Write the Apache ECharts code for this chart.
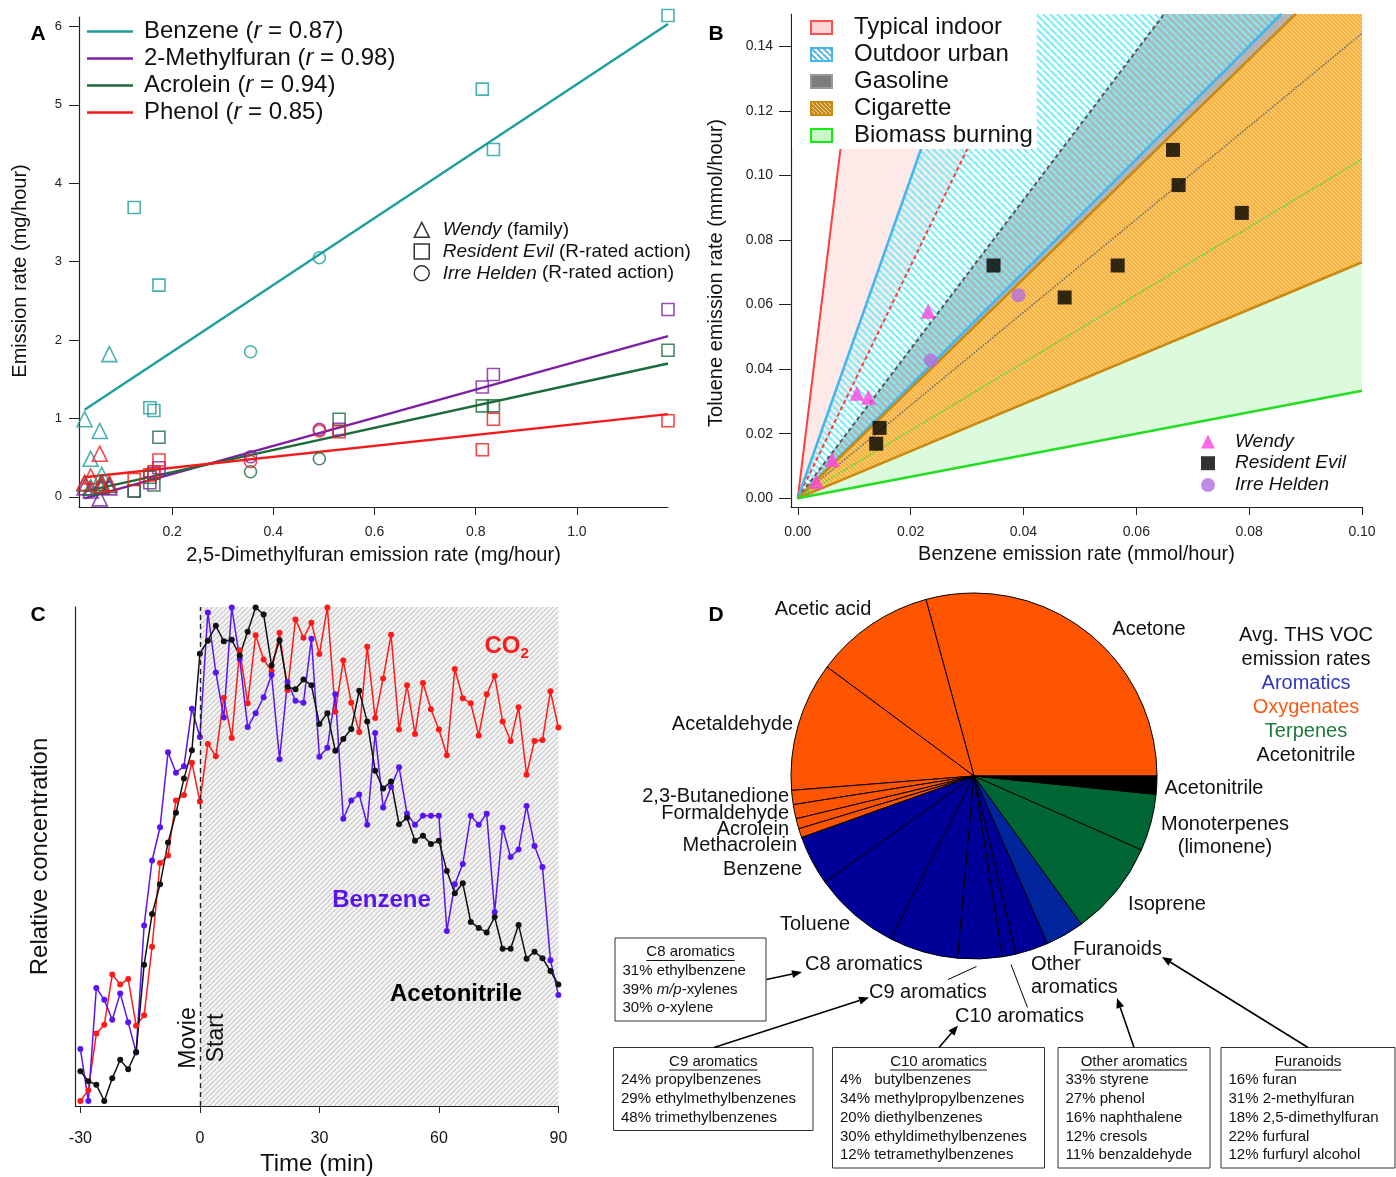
<!DOCTYPE html>
<html>
<head>
<meta charset="utf-8">
<script src="https://cdn.jsdelivr.net/npm/echarts@6/dist/echarts.min.js"></script>
<style>
  html, body { margin: 0; padding: 0; background: #fff; }
  #chart { width: 1396px; height: 1177px; }
</style>
</head>
<body>
<div id="chart"></div>
<script>
const FONT = "'Liberation Sans', Arial, Helvetica, sans-serif";

// ---------- Panel A: emission rates vs 2,5-dimethylfuran ----------
const compoundsA = ['Benzene', '2-Methylfuran', 'Acrolein', 'Phenol'];
const rValuesA = [0.87, 0.98, 0.94, 0.85];
const moviesA = ['Wendy (family)', 'Resident Evil (R-rated action)', 'Irre Helden (R-rated action)'];
// [2,5-dimethylfuran, compound, movie]  movie: 0 Wendy, 1 Resident Evil, 2 Irre Helden
const benzenePtsA = [
  [0.027, 0.99, 0], [0.039, 0.485, 0], [0.057, 0.84, 0], [0.061, 0.28, 0], [0.076, 1.82, 0],
  [0.125, 3.69, 1], [0.156, 1.135, 1], [0.164, 1.10, 1], [0.174, 2.70, 1], [0.813, 5.20, 1], [0.835, 4.43, 1], [1.18, 6.14, 1],
  [0.355, 1.85, 2], [0.491, 3.05, 2]
];
const methylfuranPtsA = [
  [0.027, 0.12, 0], [0.039, 0.08, 0], [0.057, -0.02, 0], [0.061, 0.13, 0], [0.076, 0.12, 0],
  [0.125, 0.075, 1], [0.156, 0.18, 1], [0.164, 0.30, 1], [0.174, 0.37, 1], [0.53, 0.86, 1], [0.813, 1.40, 1], [0.835, 1.56, 1], [1.18, 2.39, 1],
  [0.355, 0.51, 2], [0.491, 0.86, 2]
];
const acroleinPtsA = [
  [0.027, 0.17, 0], [0.039, 0.12, 0], [0.057, 0.14, 0], [0.061, 0.18, 0], [0.076, 0.15, 0],
  [0.125, 0.075, 1], [0.156, 0.25, 1], [0.164, 0.15, 1], [0.174, 0.76, 1], [0.53, 0.99, 1], [0.813, 1.16, 1], [0.835, 1.16, 1], [1.18, 1.87, 1],
  [0.355, 0.32, 2], [0.491, 0.485, 2]
];
const phenolPtsA = [
  [0.027, 0.18, 0], [0.039, 0.26, 0], [0.057, 0.55, 0], [0.061, 0.15, 0], [0.076, 0.17, 0],
  [0.125, 0.22, 1], [0.156, 0.28, 1], [0.164, 0.32, 1], [0.174, 0.47, 1], [0.53, 0.83, 1], [0.813, 0.60, 1], [0.835, 0.99, 1], [1.18, 0.97, 1],
  [0.355, 0.45, 2], [0.491, 0.84, 2]
];
// regression line end points
const benzeneFitA = [[0.027, 1.11], [1.18, 6.03]];
const methylfuranFitA = [[0.027, -0.02], [1.18, 2.05]];
const acroleinFitA = [[0.027, 0.07], [1.18, 1.70]];
const phenolFitA = [[0.027, 0.25], [1.18, 1.055]];
const xTicksA = [0.2, 0.4, 0.6, 0.8, 1.0];
const yTicksA = [0, 1, 2, 3, 4, 5, 6];

// ---------- Panel B: toluene vs benzene ----------
const wendyB = [[0.0033, 0.0052], [0.0061, 0.0120], [0.0105, 0.0325], [0.0125, 0.0313], [0.0231, 0.0579]];
const residentEvilB = [[0.0139, 0.0169], [0.0145, 0.0218], [0.0347, 0.0721], [0.0473, 0.0622], [0.0567, 0.0721],
  [0.0665, 0.1079], [0.0675, 0.0970], [0.0787, 0.0884]];
const irreHeldenB = [[0.0236, 0.0427], [0.0391, 0.0629]];
// toluene/benzene ratio ranges of the sources
const sourcesB = ['Typical indoor', 'Outdoor urban', 'Gasoline', 'Cigarette', 'Biomass burning'];
const ratioHighB = [14.3, 4.95, 2.31, 1.70, 1.05];
const ratioLowB = [3.6, 1.75, 1.44, 0.731, 0.333];
const xTicksB = [0, 0.02, 0.04, 0.06, 0.08, 0.10];
const yTicksB = [0, 0.02, 0.04, 0.06, 0.08, 0.10, 0.12, 0.14];

// ---------- Panel C: relative concentration time series ----------
const timeC = [-30, -28, -26, -24, -22, -20, -18, -16, -14, -12, -10, -8, -6, -4, -2, 0, 2, 4, 6, 8, 10,
  12, 14, 16, 18, 20, 22, 24, 26, 28, 30, 32, 34, 36, 38, 40, 42, 44, 46, 48, 50,
  52, 54, 56, 58, 60, 62, 64, 66, 68, 70, 72, 74, 76, 78, 80, 82, 84, 86, 88, 90];
const co2C = [0.4, 2.6, 14.0, 15.8, 25.9, 23.9, 25.0, 15.6, 17.7, 31.5, 48.4, 49.9, 61.0, 62.1, 68.6, 60.8, 72.4, 69.9, 81.7, 73.6, 91.3,
  80.6, 94.3, 89.4, 87.1, 94.8, 83.2, 97.5, 93.8, 96.8, 90.5, 99.9, 78.9, 89.2, 80.7, 74.8, 92.0, 77.6, 85.6, 94.4, 75.3,
  84.2, 74.4, 84.7, 79.4, 75.3, 70.1, 87.5, 81.6, 80.6, 74.1, 82.4, 86.1, 76.9, 73.0, 79.8, 66.2, 73.0, 73.2, 83.0, 75.7];
const benzeneC = [10.9, 0.4, 23.2, 20.8, 16.8, 22.1, 16.3, 10.2, 35.8, 48.9, 55.6, 70.7, 66.6, 67.9, 79.5, 73.8, 98.9, 86.8, 77.7, 99.9, 89.5,
  75.8, 78.6, 81.8, 86.3, 69.3, 84.9, 81.1, 80.7, 93.6, 69.8, 71.6, 82.4, 57.3, 61.0, 62.2, 56.1, 74.6, 59.6, 63.7, 67.7,
  58.3, 56.1, 57.9, 57.9, 57.9, 34.7, 44.1, 48.2, 57.9, 56.1, 58.3, 38.5, 55.5, 49.6, 51.1, 59.9, 51.8, 47.6, 28.8, 21.8];
const acetonitrileC = [6.4, 4.4, 3.7, 0.4, 5.0, 8.7, 6.8, 10.3, 27.9, 38.1, 44.1, 52.5, 58.5, 65.4, 71.1, 90.6, 93.2, 96.2, 93.1, 93.4, 90.2,
  95.0, 99.9, 98.5, 88.2, 93.3, 83.9, 83.4, 85.4, 84.2, 76.4, 78.6, 71.0, 73.4, 75.4, 83.1, 76.9, 67.0, 63.4, 64.8, 56.2,
  57.5, 52.9, 53.9, 52.2, 52.9, 46.8, 42.3, 44.3, 36.5, 35.3, 34.4, 37.5, 31.1, 31.1, 35.9, 29.1, 30.5, 29.2, 26.6, 23.9];
const xTicksC = [-30, 0, 30, 60, 90];

// ---------- Panel D: average THS VOC emission rates (share of total, %) ----------
const pieNames = ['Acetone', 'Acetic acid', 'Acetaldehyde', '2,3-Butanedione', 'Formaldehyde', 'Acrolein', 'Methacrolein',
  'Benzene', 'Toluene', 'C8 aromatics', 'C9 aromatics', 'C10 aromatics', 'Other aromatics', 'Furanoids',
  'Isoprene', 'Monoterpenes (limonene)', 'Acetonitrile'];
const pieValues = [29.2, 10.6, 11.4, 1.25, 1.25, 0.9, 0.8, 4.4, 7.6, 6.1, 3.9, 1.2, 2.9, 3.4, 8.4, 5.0, 1.6];
const pieGroups = ['oxy', 'oxy', 'oxy', 'oxy', 'oxy', 'oxy', 'oxy', 'aro', 'aro', 'aro', 'aro', 'aro', 'aro', 'furan',
  'terp', 'terp', 'nitrile'];
const c8Lines = ['31% ethylbenzene', '39% {i|m/p}-xylenes', '30% {i|o}-xylene'];
const c9Lines = ['24% propylbenzenes', '29% ethylmethylbenzenes', '48% trimethylbenzenes'];
const c10Lines = ['4%   butylbenzenes', '34% methylpropylbenzenes', '20% diethylbenzenes', '30% ethyldimethylbenzenes', '12% tetramethylbenzenes'];
const otherLines = ['33% styrene', '27% phenol', '16% naphthalene', '12% cresols', '11% benzaldehyde'];
const furanLines = ['16% furan', '31% 2-methylfuran', '18% 2,5-dimethylfuran', '22% furfural', '12% furfuryl alcohol'];

// ---------- styles / layout ----------
const colorsA = ['#1e9e9c', '#7d1fa3', '#1c6b3a', '#f51a1a'];
const shapesA = ['triangle', 'rect', 'circle'];
const sizesA = [15, 12, 12];
const groupColors = { oxy: '#ff5500', aro: '#000099', furan: '#00259d', terp: '#006633', nitrile: '#000000' };
// label anchor [x, y, align] for each pie slice, in page pixels
const pieLabelAt = [
  [1149, 629, 'center'], [823, 609, 'center'], [793, 724, 'right'], [789, 796, 'right'], [789, 813, 'right'],
  [789, 829, 'right'], [797, 845, 'right'], [802, 869, 'right'], [815, 924, 'center'], [805, 964, 'left'],
  [869, 992, 'left'], [955, 1016, 'left'], [1031, 976, 'left'], [1073, 949, 'left'], [1167, 904, 'center'],
  [1225, 836, 'center'], [1214, 788, 'center']
];

function stripes(size, bg, fg, lw, dir) {
  const c = document.createElement('canvas');
  c.width = c.height = size;
  const g = c.getContext('2d');
  if (bg) { g.fillStyle = bg; g.fillRect(0, 0, size, size); }
  g.strokeStyle = fg;
  g.lineWidth = lw;
  for (let k = -1; k <= 1; k++) {
    g.beginPath();
    if (dir === '\\') { g.moveTo(k * size, 0); g.lineTo(k * size + size, size); }
    else { g.moveTo(k * size, size); g.lineTo(k * size + size, 0); }
    g.stroke();
  }
  return { image: c, repeat: 'repeat' };
}

const cyanHatch = stripes(7, null, '#78eefa', 2.2, '\\');
const cigHatch = stripes(4, '#f5b443', '#fcd488', 1, '\\');
const movieHatch = stripes(5, '#f4f4f4', '#c6c6c6', 1.1, '/');
// legend swatches are a bit darker than the chart fills
const iconOutdoor = stripes(6, '#ffffff', '#3fb0f0', 1.8, '\\');
const iconCig = stripes(4, '#c98a1a', '#f2d9a2', 1, '\\');

const fillB = ['#fde9e7', cyanHatch, '#b4b4b4', cigHatch, '#dcfadc'];
const iconFillB = ['#ffd4d4', iconOutdoor, '#7c7c7c', iconCig, '#c8f8c8'];
const borderB = ['#ff5050', '#45b4ef', '#999999', '#c98a12', '#11ee11'];
const wedgeZ = [2, 6, 3, 4, 1];
const highLine = [
  { color: '#ff3b3b', type: 'solid', width: 2 },
  { color: '#45b4ef', type: 'solid', width: 2.5 },
  { color: '#555555', type: [4, 3], width: 2 },
  { color: '#c98a12', type: 'solid', width: 2.5 },
  { color: '#33dd33', type: [1.5, 1.5], width: 1.5 }
];
const lowLine = [
  { color: '#ff3b3b', type: [4, 3], width: 2 },
  { color: '#45b4ef', type: 'solid', width: 2.5 },
  { color: '#666666', type: [1.5, 1.5], width: 1.5 },
  { color: '#c98a12', type: 'solid', width: 2.5 },
  { color: '#22dd22', type: 'solid', width: 2.5 }
];

const xMaxB = 0.1, yMaxB = 0.15;
function rayEnd(s) {
  return s * xMaxB <= yMaxB ? [xMaxB, s * xMaxB] : [yMaxB / s, yMaxB];
}

const measureCtx = document.createElement('canvas').getContext('2d');
function textWidth(str, size) {
  measureCtx.font = size + 'px ' + FONT;
  return measureCtx.measureText(str).width;
}

function axisBase(extra) {
  return Object.assign({
    type: 'value',
    splitLine: { show: false },
    axisLine: { show: true, onZero: false, lineStyle: { color: '#222', width: 1.2 } },
    nameLocation: 'middle',
    nameTextStyle: { fontFamily: FONT, fontSize: 20, color: '#111' }
  }, extra);
}

// ---------- series ----------
const series = [];
const ptsA = [benzenePtsA, methylfuranPtsA, acroleinPtsA, phenolPtsA];
const fitsA = [benzeneFitA, methylfuranFitA, acroleinFitA, phenolFitA];
compoundsA.forEach((name, i) => {
  series.push({
    type: 'line', name, xAxisIndex: 0, yAxisIndex: 0, data: fitsA[i],
    showSymbol: false, color: colorsA[i], lineStyle: { width: 2.4 }, z: 3, silent: true
  });
  series.push({
    type: 'scatter', name: name + ' points', xAxisIndex: 0, yAxisIndex: 0, data: ptsA[i], clip: false,
    symbol: v => shapesA[v[2]], symbolSize: v => sizesA[v[2]],
    itemStyle: { color: 'rgba(0,0,0,0)', borderColor: colorsA[i], borderWidth: 1.6 }, z: 4
  });
});
// empty series that only feed the movie legend of panel A
moviesA.forEach((name, k) => {
  series.push({
    type: 'scatter', name, xAxisIndex: 0, yAxisIndex: 0, data: [], symbol: shapesA[k],
    itemStyle: { color: 'rgba(0,0,0,0)', borderColor: '#000', borderWidth: 1.5 }
  });
});

sourcesB.forEach((name, i) => {
  series.push({
    type: 'custom', name, xAxisIndex: 1, yAxisIndex: 1, data: [[0, 0]], silent: true, z: wedgeZ[i],
    itemStyle: { color: fillB[i], borderColor: borderB[i] },
    renderItem: (params, api) => {
      const a = rayEnd(ratioHighB[i]), b = rayEnd(ratioLowB[i]);
      const pts = [[0, 0], a];
      if (a[1] === yMaxB && b[0] === xMaxB && a[0] !== xMaxB) pts.push([xMaxB, yMaxB]);
      pts.push(b);
      return { type: 'polygon', shape: { points: pts.map(p => api.coord(p)) }, style: { fill: fillB[i] } };
    }
  });
});
// boundary lines of every ratio range
series.push({
  type: 'custom', name: 'bounds', xAxisIndex: 1, yAxisIndex: 1, data: [[0, 0]], silent: true, z: 8,
  renderItem: (params, api) => {
    const o = api.coord([0, 0]);
    const children = [];
    const add = (s, st) => {
      const e = api.coord(rayEnd(s));
      children.push({
        type: 'line', shape: { x1: o[0], y1: o[1], x2: e[0], y2: e[1] },
        style: { stroke: st.color, lineWidth: st.width, lineDash: st.type === 'solid' ? null : st.type }
      });
    };
    sourcesB.forEach((n, i) => { add(ratioLowB[i], lowLine[i]); });
    sourcesB.forEach((n, i) => { add(ratioHighB[i], highLine[i]); });
    return { type: 'group', children };
  }
});
series.push({ type: 'scatter', name: 'Wendy', xAxisIndex: 1, yAxisIndex: 1, data: wendyB, symbol: 'triangle', symbolSize: 15, itemStyle: { color: '#ff44dd' }, z: 10 });
series.push({ type: 'scatter', name: 'Resident Evil', xAxisIndex: 1, yAxisIndex: 1, data: residentEvilB, symbol: 'rect', symbolSize: 14, itemStyle: { color: '#000' }, z: 10 });
series.push({ type: 'scatter', name: 'Irre Helden', xAxisIndex: 1, yAxisIndex: 1, data: irreHeldenB, symbol: 'circle', symbolSize: 14, itemStyle: { color: '#b06fe0' }, z: 10 });

const linesC = [
  { name: 'CO2', data: co2C, color: '#ff1a1a' },
  { name: 'Benzene C', data: benzeneC, color: '#5a14f0' },
  { name: 'Acetonitrile C', data: acetonitrileC, color: '#111111' }
];
linesC.forEach((s, i) => {
  const ser = {
    type: 'line', name: s.name, xAxisIndex: 2, yAxisIndex: 2, clip: false,
    data: timeC.map((t, j) => [t, s.data[j]]),
    color: s.color, symbol: 'circle', symbolSize: 6, lineStyle: { width: 1.5 }, z: 3, silent: true
  };
  if (i === 0) {
    ser.markArea = { silent: true, itemStyle: { color: movieHatch }, data: [[{ xAxis: 0 }, { xAxis: 90 }]] };
    ser.markLine = {
      silent: true, symbol: 'none', label: { show: false },
      lineStyle: { color: '#222', type: [5, 4], width: 1.4 }, data: [{ xAxis: 0 }]
    };
  }
  series.push(ser);
});

series.push({
  type: 'pie', name: 'THS VOC', center: [974, 776], radius: 183, startAngle: 0, clockwise: false,
  avoidLabelOverlap: false, silent: true,
  data: pieNames.map((n, i) => ({ name: n, value: pieValues[i], itemStyle: { color: groupColors[pieGroups[i]] } })),
  itemStyle: { borderColor: '#000', borderWidth: 1 },
  label: {
    show: true, position: 'outside', fontFamily: FONT, fontSize: 20, color: '#111', lineHeight: 23,
    formatter: p => p.name.replace('Other ', 'Other\n').replace(' (', '\n(')
  },
  labelLine: { show: false },
  labelLayout: p => {
    const at = pieLabelAt[p.dataIndex];
    return { x: at[0], y: at[1], align: at[2], verticalAlign: 'middle' };
  }
});

// ---------- graphic annotations ----------
function arrow(x1, y1, x2, y2) {
  const a = Math.atan2(y2 - y1, x2 - x1), L = 10, W = 4;
  const bx = x2 - L * Math.cos(a), by = y2 - L * Math.sin(a);
  const nx = -Math.sin(a) * W, ny = Math.cos(a) * W;
  return [
    { type: 'line', shape: { x1, y1, x2: bx, y2: by }, style: { stroke: '#000', lineWidth: 1.6 } },
    { type: 'polygon', shape: { points: [[x2, y2], [bx + nx, by + ny], [bx - nx, by - ny]] }, style: { fill: '#000' } }
  ];
}
function thin(x1, y1, x2, y2) {
  return { type: 'line', shape: { x1, y1, x2, y2 }, style: { stroke: '#000', lineWidth: 1 } };
}
function infoBox(x, y, w, h, title, lines) {
  const cx = x + w / 2, tw = textWidth(title, 15);
  return [
    { type: 'rect', shape: { x, y, width: w, height: h }, style: { fill: '#fff', stroke: '#333', lineWidth: 1 } },
    { type: 'text', x: cx, y: y + 14, style: { text: title, fontFamily: FONT, fontSize: 15, fill: '#111', align: 'center', verticalAlign: 'middle' } },
    { type: 'line', shape: { x1: cx - tw / 2, y1: y + 22.5, x2: cx + tw / 2, y2: y + 22.5 }, style: { stroke: '#111', lineWidth: 1 } },
    {
      type: 'text', x: x + 7.5, y: y + 23.5,
      style: {
        text: lines.join('\n'), fontFamily: FONT, fontSize: 15, lineHeight: 18.7, fill: '#111', verticalAlign: 'top',
        rich: { i: { fontStyle: 'italic', fontFamily: FONT, fontSize: 15, lineHeight: 18.7, fill: '#111' } }
      }
    }
  ];
}
function letter(t, x, y) {
  return { type: 'text', x, y, style: { text: t, fontFamily: FONT, fontSize: 21, fontWeight: 'bold', fill: '#000', align: 'center', verticalAlign: 'middle' } };
}
function boldLabel(t, x, y, color) {
  return { type: 'text', x, y, style: { text: t, fontFamily: FONT, fontSize: 24, fontWeight: 'bold', fill: color, align: 'center', verticalAlign: 'middle' } };
}

const graphics = [
  letter('A', 38, 34), letter('B', 716, 34), letter('C', 38, 615), letter('D', 716, 615),
  { type: 'text', x: 189, y: 1038, rotation: Math.PI / 2, style: { text: 'Movie', fontFamily: FONT, fontSize: 23, fill: '#111', align: 'center', verticalAlign: 'middle' } },
  { type: 'text', x: 216.5, y: 1038, rotation: Math.PI / 2, style: { text: 'Start', fontFamily: FONT, fontSize: 23, fill: '#111', align: 'center', verticalAlign: 'middle' } },
  {
    type: 'text', x: 484.5, y: 646, style: {
      text: '{a|CO}{s|2}', align: 'left', verticalAlign: 'middle',
      rich: {
        a: { fontFamily: FONT, fontSize: 24, fontWeight: 'bold', fill: '#ff1a1a', lineHeight: 30 },
        s: { fontFamily: FONT, fontSize: 15, fontWeight: 'bold', fill: '#ff1a1a', verticalAlign: 'bottom' }
      }
    }
  },
  boldLabel('Benzene', 381.5, 900, '#5a14f0'),
  boldLabel('Acetonitrile', 456, 994.5, '#000'),
  {
    type: 'text', x: 1306, y: 623, style: {
      text: '{k|Avg. THS VOC}\n{k|emission rates}\n{a|Aromatics}\n{o|Oxygenates}\n{t|Terpenes}\n{k|Acetonitrile}',
      align: 'center', verticalAlign: 'top',
      rich: {
        k: { fontFamily: FONT, fontSize: 20, lineHeight: 24, fill: '#111' },
        a: { fontFamily: FONT, fontSize: 20, lineHeight: 24, fill: '#3535c0' },
        o: { fontFamily: FONT, fontSize: 20, lineHeight: 24, fill: '#ff5a14' },
        t: { fontFamily: FONT, fontSize: 20, lineHeight: 24, fill: '#1e7a3c' }
      }
    }
  },
  ...infoBox(615, 938, 151, 83, 'C8 aromatics', c8Lines),
  ...infoBox(613.5, 1047.5, 199.5, 83, 'C9 aromatics', c9Lines),
  ...infoBox(832.5, 1047.5, 212, 120.5, 'C10 aromatics', c10Lines),
  ...infoBox(1058, 1047.5, 152, 120.5, 'Other aromatics', otherLines),
  ...infoBox(1221, 1047.5, 174, 120.5, 'Furanoids', furanLines),
  ...arrow(766.5, 979.5, 802, 972),
  ...arrow(714, 1047.5, 869, 997.5),
  ...arrow(939, 1047.5, 958, 1025.5),
  ...arrow(1134, 1047.5, 1117, 998),
  ...arrow(1308, 1047.5, 1162, 957),
  thin(948, 979.5, 976.5, 966.5),
  thin(1011, 964.5, 1027.5, 1007.5)
].map((el, k) => Object.assign({ z: 50, z2: k }, el));

// ---------- option ----------
const option = {
  animation: false,
  backgroundColor: '#fff',
  textStyle: { fontFamily: FONT },
  grid: [
    { left: 79, top: 17, width: 589, height: 490 },
    { left: 791, top: 14, width: 571, height: 493 },
    { left: 75.4, top: 607, width: 483, height: 506 }
  ],
  xAxis: [
    axisBase({
      gridIndex: 0, min: 0.016, max: 1.18,
      axisTick: { show: true, length: 8, customValues: xTicksA, lineStyle: { color: '#222' } },
      axisLabel: { customValues: xTicksA, margin: 18, fontSize: 14, color: '#222', formatter: v => v.toFixed(1) },
      name: '2,5-Dimethylfuran emission rate (mg/hour)', nameGap: 38
    }),
    axisBase({
      gridIndex: 1, min: -0.0012, max: 0.1,
      axisTick: { show: true, length: 8, customValues: xTicksB, lineStyle: { color: '#222' } },
      axisLabel: { customValues: xTicksB, margin: 18, fontSize: 14, color: '#222', formatter: v => v.toFixed(2) },
      name: 'Benzene emission rate (mmol/hour)', nameGap: 37
    }),
    axisBase({
      gridIndex: 2, min: -31.25, max: 90,
      axisTick: { show: true, length: 7, customValues: xTicksC, lineStyle: { color: '#222' } },
      axisLabel: { customValues: xTicksC, margin: 25, fontSize: 16, color: '#111', formatter: v => String(v) },
      name: 'Time (min)', nameGap: 46, nameTextStyle: { fontFamily: FONT, fontSize: 24, color: '#111' }
    })
  ],
  yAxis: [
    axisBase({
      gridIndex: 0, min: -0.13, max: 6.12,
      axisTick: { show: true, length: 10, customValues: yTicksA, lineStyle: { color: '#222' } },
      axisLabel: { customValues: yTicksA, margin: 17, fontSize: 13, color: '#222', formatter: v => String(v) },
      name: 'Emission rate (mg/hour)', nameGap: 49,
      nameTextStyle: { fontFamily: FONT, fontSize: 20, color: '#111', padding: [0, 18, 0, 0] }
    }),
    axisBase({
      gridIndex: 1, min: -0.0027, max: 0.15,
      axisTick: { show: true, length: 12, customValues: yTicksB, lineStyle: { color: '#222' } },
      axisLabel: { customValues: yTicksB, margin: 18, fontSize: 14, color: '#222', formatter: v => v.toFixed(2) },
      name: 'Toluene emission rate (mmol/hour)', nameGap: 65,
      nameTextStyle: { fontFamily: FONT, fontSize: 20, color: '#111', padding: [0, 25, 0, 0] }
    }),
    axisBase({
      gridIndex: 2, min: -0.6, max: 100,
      axisTick: { show: false }, axisLabel: { show: false },
      name: 'Relative concentration', nameGap: 23, nameTextStyle: { fontFamily: FONT, fontSize: 24, color: '#111' }
    })
  ],
  legend: [
    {
      z: 20, left: 87, top: 18, orient: 'vertical', padding: 0, itemGap: 0, itemWidth: 46, itemHeight: 2.5, icon: 'rect',
      selectedMode: false, data: compoundsA,
      formatter: name => name + ' ({i|r} = ' + rValuesA[compoundsA.indexOf(name)].toFixed(2) + ')',
      textStyle: {
        fontFamily: FONT, fontSize: 24, lineHeight: 27, color: '#111', padding: [0, 0, 0, 6],
        rich: { i: { fontFamily: FONT, fontSize: 24, lineHeight: 27, fontStyle: 'italic', color: '#111' } }
      }
    },
    {
      z: 20, left: 413.5, top: 219, orient: 'vertical', padding: 0, itemGap: 0, itemWidth: 15, itemHeight: 15,
      selectedMode: false,
      data: moviesA.map((n, k) => ({ name: n, icon: shapesA[k], itemStyle: { color: 'rgba(0,0,0,0)', borderColor: '#000', borderWidth: 1.5 } })),
      formatter: name => {
        const cut = name.indexOf(' (');
        return '{i|' + name.slice(0, cut) + '}' + name.slice(cut);
      },
      textStyle: {
        fontFamily: FONT, fontSize: 19, lineHeight: 21.7, color: '#111', padding: [0, 0, 0, 8.5],
        rich: { i: { fontFamily: FONT, fontSize: 19, lineHeight: 21.7, fontStyle: 'italic', color: '#111' } }
      }
    },
    {
      z: 20, left: 792, top: 14, orient: 'vertical', padding: [0, 4, 0, 18], itemGap: 0, itemWidth: 21, itemHeight: 13,
      backgroundColor: '#fff', selectedMode: false,
      data: sourcesB.map((n, i) => ({ name: n, icon: 'rect', itemStyle: { color: iconFillB[i], borderColor: borderB[i], borderWidth: 2 } })),
      textStyle: { fontFamily: FONT, fontSize: 24, lineHeight: 27, color: '#111', padding: [0, 0, 0, 17] }
    },
    {
      z: 20, left: 1201, top: 430.5, orient: 'vertical', padding: 0, itemGap: 0, itemWidth: 14, itemHeight: 14,
      selectedMode: false,
      data: [
        { name: 'Wendy', icon: 'triangle' },
        { name: 'Resident Evil', icon: 'rect' },
        { name: 'Irre Helden', icon: 'circle' }
      ],
      textStyle: { fontFamily: FONT, fontSize: 19, lineHeight: 21.8, fontStyle: 'italic', color: '#111', padding: [0, 0, 0, 15] }
    }
  ],
  graphic: graphics,
  series
};

const chart = echarts.init(document.getElementById('chart'), null, { renderer: 'canvas' });
chart.setOption(option);
</script>
</body>
</html>
